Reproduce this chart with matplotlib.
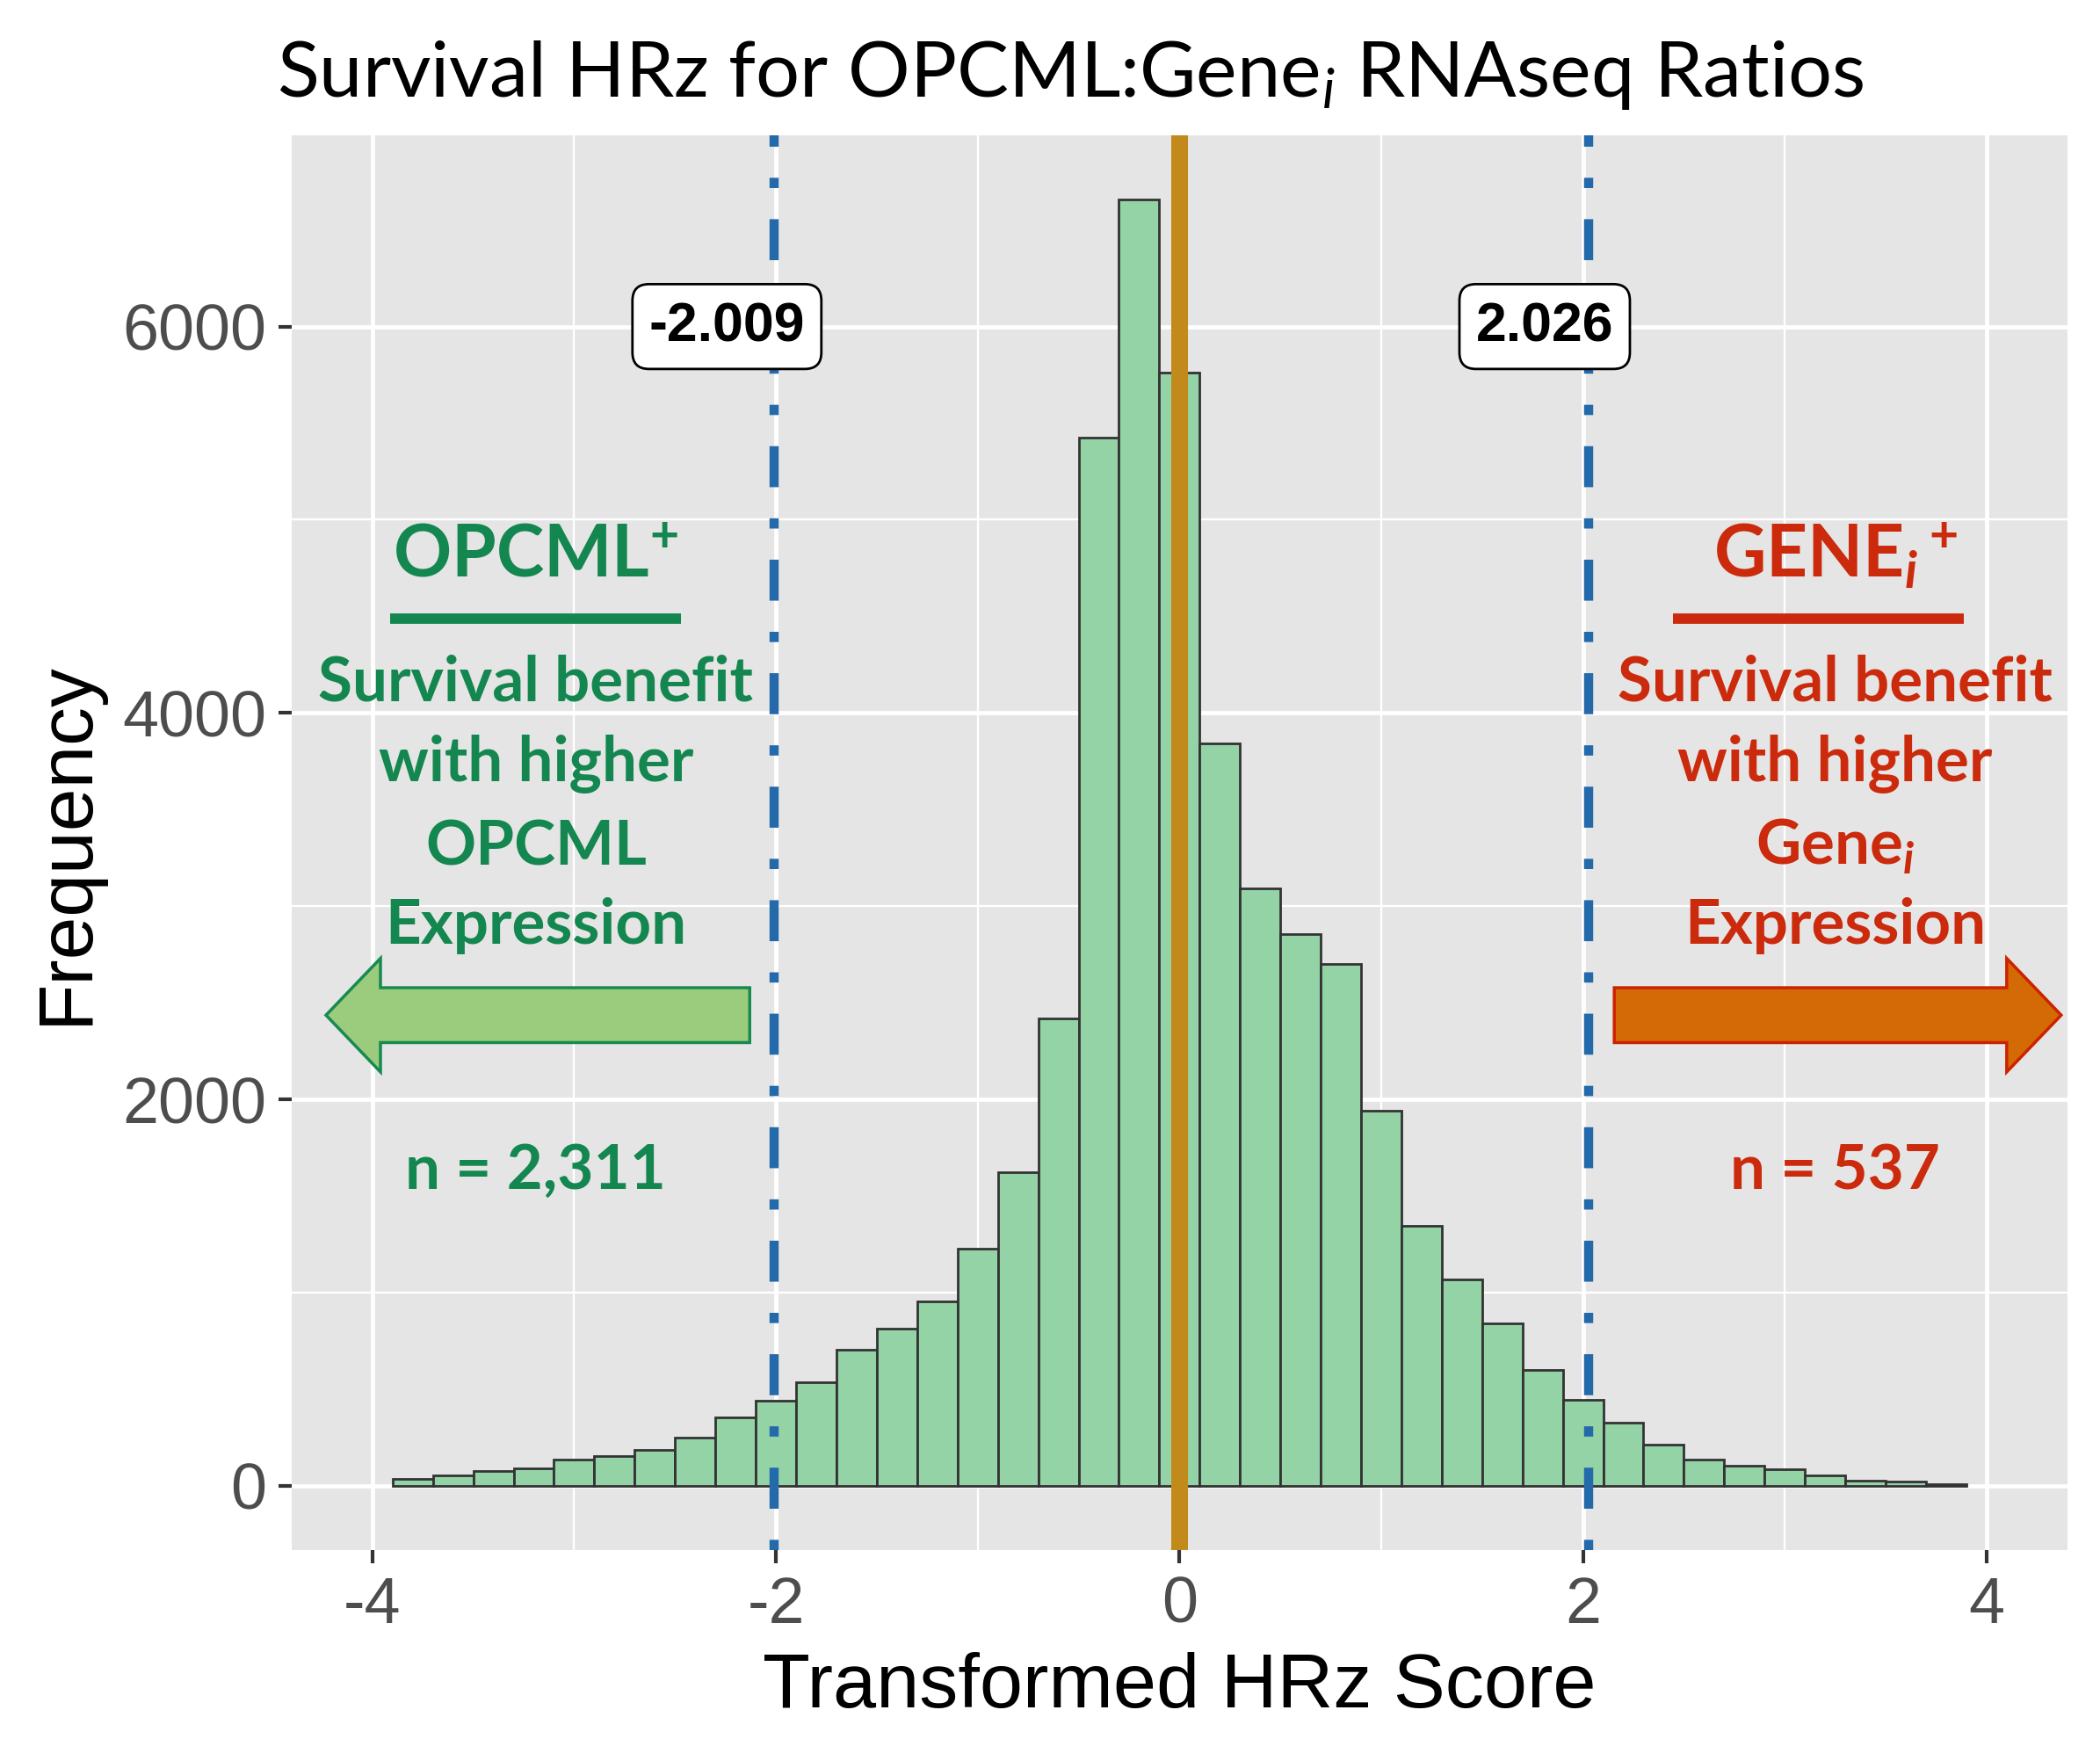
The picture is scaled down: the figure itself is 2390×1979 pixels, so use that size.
import numpy as np
import matplotlib
matplotlib.use('Agg')
import matplotlib.pyplot as plt
from matplotlib.patches import FancyArrow

# histogram of transformed HRz scores, bins of width 0.2 from -3.9 to 3.9
bin_width = 0.2
bin_lefts = np.round(np.arange(-3.9, 3.8, bin_width), 1)
counts = [38, 56, 76, 91, 137, 152, 187, 251, 352, 440, 534, 706, 814, 953, 1227,
          1624, 2418, 5425, 6659, 5763, 3842, 3090, 2854, 2701, 1940, 1346, 1067,
          840, 601, 447, 326, 215, 135, 105, 87, 52, 26, 20, 9]

cutoffs = [-2.009, 2.026]
center_line = 0
n_left = "n = 2,311"
n_right = "n = 537"

left_lines = ["Survival benefit", "with higher", "OPCML", "Expression"]
right_lines = ["Survival benefit", "with higher", r"Gene$_{\mathbfit{i}}$", "Expression"]

green = '#13874F'
red = '#CB2A0C'

plt.rcParams['axes.unicode_minus'] = False
plt.rcParams['mathtext.fontset'] = 'custom'
plt.rcParams['mathtext.rm'] = 'Lato'
plt.rcParams['mathtext.it'] = 'Lato:italic'
plt.rcParams['mathtext.bf'] = 'Lato:bold'
plt.rcParams['mathtext.bfit'] = 'Lato:italic:bold'

fig = plt.figure(figsize=(23.9, 19.79), dpi=100)
ax = fig.add_axes([0.1389, 0.1086, 0.8455, 0.8135])
ax.set_facecolor('#E5E5E5')
for s in ax.spines.values():
    s.set_visible(False)

ax.set_xlim(-4.4, 4.4)
ax.set_ylim(-333, 6989)
ax.set_xticks([-4, -2, 0, 2, 4])
ax.set_xticks([-3, -1, 1, 3], minor=True)
ax.set_yticks([0, 2000, 4000, 6000])
ax.set_yticks([1000, 3000, 5000], minor=True)
ax.grid(which='major', color='white', lw=3.4)
ax.grid(which='minor', color='white', lw=1.7)
ax.set_axisbelow(True)
ax.tick_params(which='major', length=10.8, width=3, color='#333333',
               labelsize=53, labelcolor='#4D4D4D', pad=10)
ax.tick_params(which='minor', length=0)
for lab in ax.get_xticklabels() + ax.get_yticklabels():
    lab.set_family('Liberation Sans')

ax.bar(bin_lefts, counts, width=bin_width, align='edge', color='#93D3A6',
       edgecolor='#333333', lw=2, zorder=2)

for c in cutoffs:
    ax.axvline(c, color='#2469AA', lw=7.5, dashes=(1.12, 3.4, 4.48, 3.4), zorder=3)
ax.axvline(center_line, color='#C18A1B', lw=13.7, zorder=3)

label_x = [-2.243, 1.81]
for c, lx in zip(cutoffs, label_x):
    ax.text(lx, 6000, f"{c:.3f}", ha='center', va='center', fontsize=45,
            fontweight='bold', family='Liberation Sans', zorder=5,
            bbox=dict(boxstyle='round,pad=0.3,rounding_size=0.3', fc='white',
                      ec='black', lw=2))

# side annotations
left_x, right_x = -3.19, 3.25
line_y = [4064, 3646, 3214, 2805]
ax.text(left_x, 4701, r"OPCML$^{\mathbf{+}}$", color=green, fontsize=59,
        fontweight='bold', family='Lato', ha='center', va='baseline', zorder=4)
ax.text(right_x, 4701, r"GENE$_{\mathbfit{i}}\,{}^{\mathbf{+}}$", color=red, fontsize=59,
        fontweight='bold', family='Lato', ha='center', va='baseline', zorder=4)
ax.plot([-3.91, -2.47], [4488, 4488], color=green, lw=8.5, solid_capstyle='butt', zorder=4)
ax.plot([2.448, 3.888], [4488, 4488], color=red, lw=8.5, solid_capstyle='butt', zorder=4)
for txt, y in zip(left_lines, line_y):
    ax.text(left_x, y, txt, color=green, fontsize=51, fontweight='bold', family='Lato',
            ha='center', va='baseline', zorder=4)
for txt, y in zip(right_lines, line_y):
    ax.text(right_x, y, txt, color=red, fontsize=51, fontweight='bold', family='Lato',
            ha='center', va='baseline', zorder=4)
ax.text(left_x, 1536, n_left, color=green, fontsize=51, fontweight='bold', family='Lato',
        ha='center', va='baseline', zorder=4)
ax.text(right_x, 1536, n_right, color=red, fontsize=51, fontweight='bold', family='Lato',
        ha='center', va='baseline', zorder=4)

ax.add_patch(FancyArrow(-2.13, 2436, -2.10, 0, width=284, head_width=588,
                        head_length=0.27, length_includes_head=True,
                        fc='#9BCB7C', ec='#178A50', lw=2.5, zorder=4))
ax.add_patch(FancyArrow(2.155, 2436, 2.215, 0, width=284, head_width=588,
                        head_length=0.27, length_includes_head=True,
                        fc='#D46A06', ec='#CC2200', lw=2.5, zorder=4))

fig.text(0.5096, 1 - 110 / 1979, r"Survival HRz for OPCML:Gene$_{i}$ RNAseq Ratios",
         ha='center', va='baseline', fontsize=63.5, family='Lato')
fig.text(0.5615, 1 - 1943 / 1979, "Transformed HRz Score", ha='center', va='baseline',
         fontsize=63.5, family='Liberation Sans')
fig.text(0.032, 1 - 959 / 1979, "Frequency", rotation=90, ha='center', va='center',
         fontsize=63, family='Liberation Sans')

fig.savefig('out.png', dpi=100)
